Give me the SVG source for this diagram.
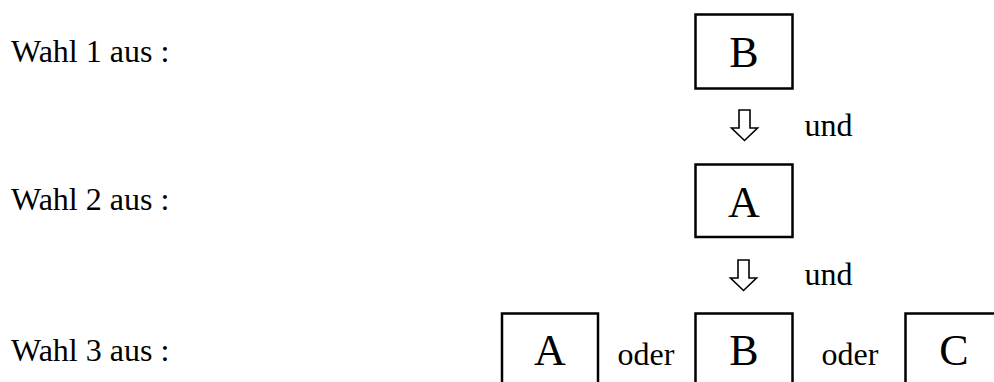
<svg xmlns="http://www.w3.org/2000/svg" width="994" height="382" viewBox="0 0 994 382">
  <style>
    .label { font-family: "Liberation Serif", "Times New Roman", serif; font-size: 32px; fill: #000; }
    .big { font-family: "Liberation Serif", "Times New Roman", serif; font-size: 44px; fill: #000; text-anchor: middle; }
    .box { fill: #fff; stroke: #000; stroke-width: 2.5; }
    .arrow { fill: #fff; stroke: #000; stroke-width: 1.6; stroke-linejoin: miter; }
  </style>
  <defs>
    <!-- hollow downward arrow, origin at the top centre of the shaft -->
    <path id="downArrow" class="arrow" d="M -5.5 0 H 5.5 V 18 H 13 L 0 30.5 L -13 18 H -5.5 Z"/>
  </defs>

  <!-- row captions -->
  <g id="captions">
    <text class="label" x="11" y="61.5">Wahl 1 aus :</text>
    <text class="label" x="11" y="210">Wahl 2 aus :</text>
    <text class="label" x="11" y="361">Wahl 3 aus :</text>
  </g>

  <!-- connectors between the choices -->
  <g id="connectors">
    <use href="#downArrow" x="744.5" y="110"/>
    <text class="label" x="804.5" y="136">und</text>
    <use href="#downArrow" x="743.5" y="260"/>
    <text class="label" x="804.5" y="285">und</text>
    <text class="label" x="617.5" y="365">oder</text>
    <text class="label" x="821.5" y="365">oder</text>
  </g>

  <!-- first choice -->
  <g id="node-b1">
    <rect class="box" x="695.5" y="14.5" width="97" height="74"/>
    <text class="big" x="744" y="67">B</text>
  </g>

  <!-- second choice -->
  <g id="node-a2">
    <rect class="box" x="695.5" y="164.5" width="97" height="72.5"/>
    <text class="big" x="744" y="217">A</text>
  </g>

  <!-- third choice: A, B or C -->
  <g id="node-a3">
    <rect class="box" x="502" y="313.5" width="96" height="80"/>
    <text class="big" x="550" y="364.5">A</text>
  </g>
  <g id="node-b3">
    <rect class="box" x="695.5" y="313.5" width="97" height="80"/>
    <text class="big" x="744" y="364.5">B</text>
  </g>
  <g id="node-c3">
    <rect class="box" x="905.5" y="313.5" width="97" height="80"/>
    <text class="big" x="954" y="364.5">C</text>
  </g>
</svg>
